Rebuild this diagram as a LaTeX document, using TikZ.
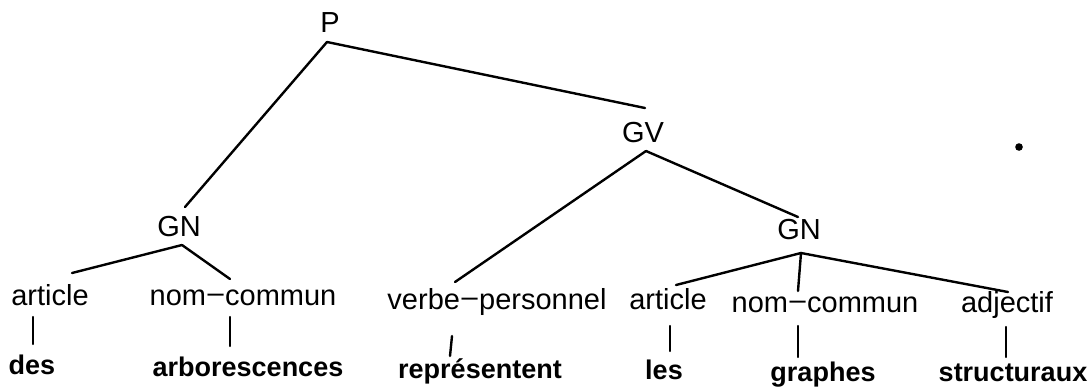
\documentclass[tikz,border=0pt]{standalone}
\usepackage{fontspec}
\setmainfont{Liberation Sans}
\newcommand\mydash{\kern1.5pt\raisebox{0.09em}{–}\kern1.5pt}
\tikzset{
  cat/.style={anchor=base, inner sep=0pt, font=\fontsize{29}{34}\selectfont},
  word/.style={anchor=base, inner sep=0pt, font=\fontsize{27}{32}\selectfont\bfseries},
  edge/.style={line width=2.4pt, line cap=round},
}
\begin{document}
\begin{tikzpicture}[x=1pt,y=1pt]
\useasboundingbox (0,0) rectangle (1089,-389);
% categories
\node[cat] (P)   at (330,-32)  {P};
\node[cat] (GV)  at (643,-142) {GV};
\node[cat] (GNa) at (179,-236) {GN};
\node[cat] (GNb) at (799,-239) {GN};
\node[cat] (arta) at (50,-305)  {article};
\node[cat] (noma) at (243,-305) {nom\mydash commun};
\node[cat] (verb) at (497,-309) {verbe\mydash personnel};
\node[cat] (artb) at (668,-309) {article};
\node[cat] (nomb) at (825,-312) {nom\mydash commun};
\node[cat] (adj)  at (1007,-312) {adjectif};
% words
\node[word] (des)  at (32,-374)  {des};
\node[word] (arbo) at (248,-376) {arborescences};
\node[word] (repr) at (480,-378) {représentent};
\node[word] (les)  at (664,-379) {les};
\node[word] (gra)  at (823,-381) {graphes};
\node[word] (str)  at (1013,-381) {structuraux};
% tree edges
\draw[edge] ([xshift=-3pt,yshift=-10pt]P.base) -- ([xshift=6pt,yshift=29pt]GNa.base);
\draw[edge] ([xshift=-3pt,yshift=-10pt]P.base) -- ([xshift=2pt,yshift=34pt]GV.base);
\draw[edge] ([xshift=3pt,yshift=-9pt]GV.base) -- ([xshift=-42pt,yshift=27pt]verb.base);
\draw[edge] ([xshift=3pt,yshift=-9pt]GV.base) -- ([xshift=-1pt,yshift=22pt]GNb.base);
\draw[edge] ([xshift=3pt,yshift=-9pt]GNa.base) -- ([xshift=22pt,yshift=32pt]arta.base);
\draw[edge] ([xshift=3pt,yshift=-9pt]GNa.base) -- ([xshift=-13pt,yshift=26pt]noma.base);
\draw[edge] ([xshift=2pt,yshift=-14pt]GNb.base) -- ([xshift=8pt,yshift=24pt]artb.base);
\draw[edge] ([xshift=2pt,yshift=-14pt]GNb.base) -- ([xshift=-27pt,yshift=21pt]nomb.base);
\draw[edge] ([xshift=2pt,yshift=-14pt]GNb.base) -- ([xshift=1pt,yshift=20pt]adj.base);
% vertical bars
\draw[edge] ([xshift=-17pt,yshift=-12pt]arta.base) -- ([xshift=1pt,yshift=30pt]des.base);
\draw[edge] ([xshift=-13pt,yshift=-12pt]noma.base) -- ([xshift=-18pt,yshift=30pt]arbo.base);
\draw[edge] ([xshift=-45pt,yshift=-27pt]verb.base) -- ([xshift=-30pt,yshift=22pt]repr.base);
\draw[edge] ([xshift=2pt,yshift=-17pt]artb.base) -- ([xshift=6pt,yshift=28pt]les.base);
\draw[edge] ([xshift=-27pt,yshift=-14pt]nomb.base) -- ([xshift=-25pt,yshift=24pt]gra.base);
\draw[edge] ([xshift=-1pt,yshift=-15pt]adj.base) -- ([xshift=-7pt,yshift=24pt]str.base);
% stray dot
\fill (1019,-147) circle (3.8pt);
\end{tikzpicture}
\end{document}
